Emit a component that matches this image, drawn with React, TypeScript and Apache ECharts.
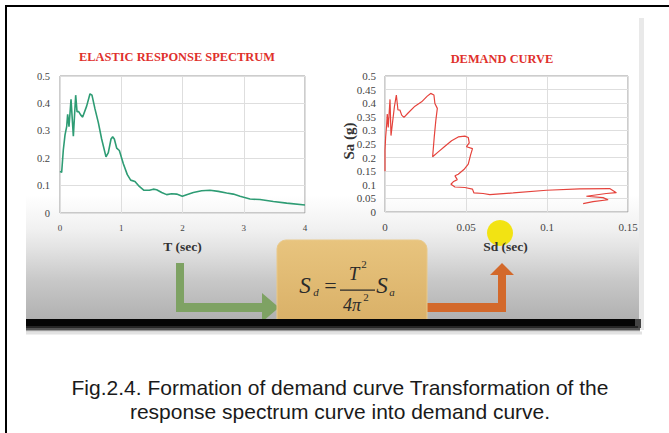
import React, { useEffect, useRef } from "react";
import * as echarts from "echarts";

// Elastic response spectrum (T in sec, Sa in g)
const spectrumT = [0, 0.027, 0.054, 0.082, 0.109, 0.125, 0.147, 0.18, 0.218, 0.256, 0.278, 0.305, 0.337, 0.37, 0.435, 0.49, 0.522, 0.571, 0.626, 0.68, 0.751, 0.789, 0.833, 0.86, 0.887, 0.925, 0.969, 1.034, 1.099, 1.154, 1.224, 1.295, 1.371, 1.459, 1.524, 1.578, 1.66, 1.741, 1.823, 1.905, 1.997, 2.068, 2.177, 2.313, 2.449, 2.585, 2.721, 2.83, 2.939, 3.102, 3.265, 3.483, 3.701, 4.0];
const spectrumSa = [0.152, 0.148, 0.23, 0.285, 0.315, 0.36, 0.315, 0.415, 0.28, 0.43, 0.37, 0.37, 0.358, 0.35, 0.39, 0.435, 0.43, 0.38, 0.33, 0.27, 0.205, 0.22, 0.27, 0.278, 0.27, 0.237, 0.228, 0.18, 0.14, 0.12, 0.115, 0.097, 0.083, 0.083, 0.087, 0.085, 0.075, 0.067, 0.07, 0.069, 0.061, 0.067, 0.075, 0.081, 0.083, 0.079, 0.073, 0.069, 0.061, 0.051, 0.049, 0.042, 0.036, 0.029];

// Demand curve (Sd, Sa in g)
const demandSd = [0, 0, 0.0004, 0.001, 0.0014, 0.002, 0.0031, 0.0037, 0.0058, 0.007, 0.008, 0.0092, 0.0103, 0.0117, 0.0144, 0.0185, 0.0226, 0.0261, 0.0282, 0.0302, 0.0308, 0.0323, 0.0314, 0.0304, 0.0294, 0.0329, 0.037, 0.0411, 0.0452, 0.0493, 0.0514, 0.052, 0.0503, 0.054, 0.0528, 0.0514, 0.0487, 0.0452, 0.0432, 0.0446, 0.0421, 0.0407, 0.0432, 0.0493, 0.054, 0.0549, 0.0606, 0.0647, 0.0791, 0.0997, 0.1202, 0.1387, 0.1428, 0.1366, 0.1243, 0.1346, 0.1377, 0.1284, 0.1223];
const demandSa = [0.15, 0.227, 0.276, 0.319, 0.36, 0.311, 0.414, 0.281, 0.387, 0.43, 0.375, 0.375, 0.356, 0.348, 0.365, 0.389, 0.405, 0.426, 0.436, 0.43, 0.399, 0.381, 0.338, 0.276, 0.203, 0.221, 0.242, 0.262, 0.276, 0.279, 0.274, 0.254, 0.24, 0.233, 0.209, 0.176, 0.156, 0.139, 0.133, 0.119, 0.111, 0.102, 0.092, 0.09, 0.084, 0.07, 0.068, 0.064, 0.07, 0.08, 0.085, 0.086, 0.071, 0.068, 0.058, 0.053, 0.045, 0.038, 0.031];

const titles = ["ELASTIC RESPONSE SPECTRUM", "DEMAND CURVE"];
const axisNames = ["T (sec)", "Sd (sec)", "Sa (g)"];
const captionLines = [
  "Fig.2.4. Formation of demand curve Transformation of the",
  "response spectrum curve into demand curve.",
];

const SERIF = "'Liberation Serif', 'DejaVu Serif', serif";
const SANS = "'Liberation Sans', Arial, sans-serif";

export default function App() {
  const ref = useRef<HTMLDivElement>(null);
  useEffect(() => {
    if (!ref.current) return;
    const chart = echarts.init(ref.current, undefined, { renderer: "svg" });

    const labelStyle = { color: "#444", fontFamily: SERIF };
    const splitLine = { show: true, lineStyle: { color: "#dedede", width: 1 } };

    const txt = (x: number, y: number, text: string, font: string, fill: string, extra: any = {}) => ({
      type: "text",
      x,
      y,
      z: 20,
      ...extra,
      style: { text, font, fill, align: "center", verticalAlign: "middle", ...(extra.style || {}) },
    });

    const option: any = {
      animation: false,
      grid: [
        { left: 60, top: 76, width: 245, height: 137, show: true, borderColor: "#9a9a9a", borderWidth: 1, backgroundColor: "transparent" },
        { left: 385, top: 76, width: 243, height: 136, show: true, borderColor: "#9a9a9a", borderWidth: 1, backgroundColor: "transparent" },
      ],
      xAxis: [
        {
          type: "value", gridIndex: 0, min: 0, max: 4, interval: 1,
          axisLine: { show: false }, axisTick: { show: false }, splitLine,
          axisLabel: { ...labelStyle, fontSize: 9, margin: 10 },
        },
        {
          type: "value", gridIndex: 1, min: 0, max: 0.15, interval: 0.05,
          axisLine: { show: false }, axisTick: { show: false }, splitLine,
          axisLabel: { ...labelStyle, fontSize: 11, margin: 9 },
        },
      ],
      yAxis: [
        {
          type: "value", gridIndex: 0, min: 0, max: 0.5, interval: 0.1,
          axisLine: { show: false }, axisTick: { show: false }, splitLine,
          axisLabel: { ...labelStyle, fontSize: 10.5, margin: 10 },
        },
        {
          type: "value", gridIndex: 1, min: 0, max: 0.5, interval: 0.05,
          axisLine: { show: false }, axisTick: { show: false }, splitLine,
          axisLabel: { ...labelStyle, fontSize: 11, margin: 9 },
        },
      ],
      series: [
        {
          type: "line", xAxisIndex: 0, yAxisIndex: 0, showSymbol: false, smooth: false,
          lineStyle: { color: "#2e9c74", width: 1.6 },
          data: spectrumT.map((t, i) => [t, spectrumSa[i]]),
        },
        {
          type: "line", xAxisIndex: 1, yAxisIndex: 1, showSymbol: false, smooth: false,
          lineStyle: { color: "#e5433c", width: 1.2 },
          data: demandSd.map((d, i) => [d, demandSa[i]]),
        },
      ],
      graphic: [
        // slide background with gradient
        {
          type: "rect", z: -10, shape: { x: 26, y: 15, width: 614, height: 305 },
          style: {
            fill: new echarts.graphic.LinearGradient(0, 0, 0, 1, [
              { offset: 0, color: "#ffffff" },
              { offset: 0.59, color: "#ffffff" },
              { offset: 0.7, color: "#f1f1f1" },
              { offset: 0.76, color: "#e4e4e4" },
              { offset: 0.87, color: "#c8c8c8" },
              { offset: 1, color: "#b0b0b0" },
            ]),
          },
        },
        // right shadow band
        { type: "rect", z: -9, shape: { x: 639, y: 18, width: 5, height: 312 }, style: { fill: "#e9e9e9" } },
        // arrows
        {
          type: "polygon", z: 5,
          shape: { points: [[176, 263], [184, 263], [184, 303], [262, 303], [262, 293], [279, 307.5], [262, 322], [262, 312], [176, 312]] },
          style: { fill: "#7ea263" },
        },
        {
          type: "polygon", z: 5,
          shape: { points: [[420, 303], [498, 303], [498, 275], [490, 275], [502, 263], [514, 275], [506, 275], [506, 312], [420, 312]] },
          style: { fill: "#d3692b" },
        },
        // formula box
        {
          type: "rect", z: 6, shape: { x: 277, y: 240, width: 150, height: 84, r: [9, 9, 0, 0] },
          style: {
            fill: new echarts.graphic.LinearGradient(0, 0, 0, 1, [
              { offset: 0, color: "#e8c47e" },
              { offset: 1, color: "#d9b067" },
            ]),
            stroke: "#e9c98a", lineWidth: 1,
          },
        },
        // black bar with shadow
        { type: "rect", z: 8, shape: { x: 26, y: 319, width: 609, height: 7 }, style: { fill: "#050505" } },
        { type: "rect", z: 8, shape: { x: 635, y: 319, width: 6, height: 9 }, style: { fill: "#444" } },
        { type: "rect", z: 8, shape: { x: 26, y: 326, width: 612, height: 2 }, style: { fill: "#262626" } },
        { type: "rect", z: 8, shape: { x: 26, y: 328, width: 614, height: 2 }, style: { fill: "#555" } },
        { type: "rect", z: 8, shape: { x: 26, y: 330, width: 614, height: 1.5 }, style: { fill: "#9a9a9a" } },
        { type: "rect", z: 8, shape: { x: 26, y: 331.5, width: 616, height: 3 }, style: { fill: "#e2e2e2" } },
        // frame
        { type: "rect", z: 30, shape: { x: 5, y: 5, width: 664, height: 2 }, style: { fill: "#000" } },
        { type: "rect", z: 30, shape: { x: 5, y: 5, width: 2, height: 428 }, style: { fill: "#000" } },
        // yellow highlight
        { type: "circle", z: 15, shape: { cx: 500, cy: 233, r: 13 }, style: { fill: "rgba(242,226,0,0.92)" } },
        // titles
        txt(177, 56, titles[0], `bold 13.5px ${SERIF}`, "#e0302c", { scaleX: 0.92 }),
        txt(502, 58, titles[1], `bold 13.5px ${SERIF}`, "#e0302c", { scaleX: 0.92 }),
        // axis names
        txt(182.5, 246, axisNames[0], `bold 13.5px ${SERIF}`, "#333"),
        txt(505.5, 246, axisNames[1], `bold 13.5px ${SERIF}`, "#333"),
        txt(349, 141, axisNames[2], `bold 15px ${SERIF}`, "#333", { rotation: Math.PI / 2 }),
        // formula
        txt(305, 285, "S", `italic 23px ${SERIF}`, "#2a2a2a"),
        txt(316, 292, "d", `italic 11px ${SERIF}`, "#2a2a2a"),
        txt(330.5, 285, "=", `22px ${SERIF}`, "#2a2a2a"),
        { type: "rect", z: 20, shape: { x: 340, y: 289.5, width: 35, height: 1.2 }, style: { fill: "#2a2a2a" } },
        txt(354, 273, "T", `italic 19px ${SERIF}`, "#2a2a2a"),
        txt(364, 264, "2", `11px ${SERIF}`, "#2a2a2a"),
        txt(352, 305, "4π", `italic 18px ${SERIF}`, "#2a2a2a"),
        txt(366, 297, "2", `11px ${SERIF}`, "#2a2a2a"),
        txt(382, 285, "S", `italic 23px ${SERIF}`, "#2a2a2a"),
        txt(392, 292, "a", `italic 11px ${SERIF}`, "#2a2a2a"),
        // caption
        txt(340, 387, captionLines[0], `21px ${SANS}`, "#1a1a1a"),
        txt(340, 411, captionLines[1], `21px ${SANS}`, "#1a1a1a"),
      ],
    };
    chart.setOption(option);
    return () => chart.dispose();
  }, []);
  return <div ref={ref} style={{ position: "absolute", left: 0, top: 0, width: 669, height: 433 }} />;
}
